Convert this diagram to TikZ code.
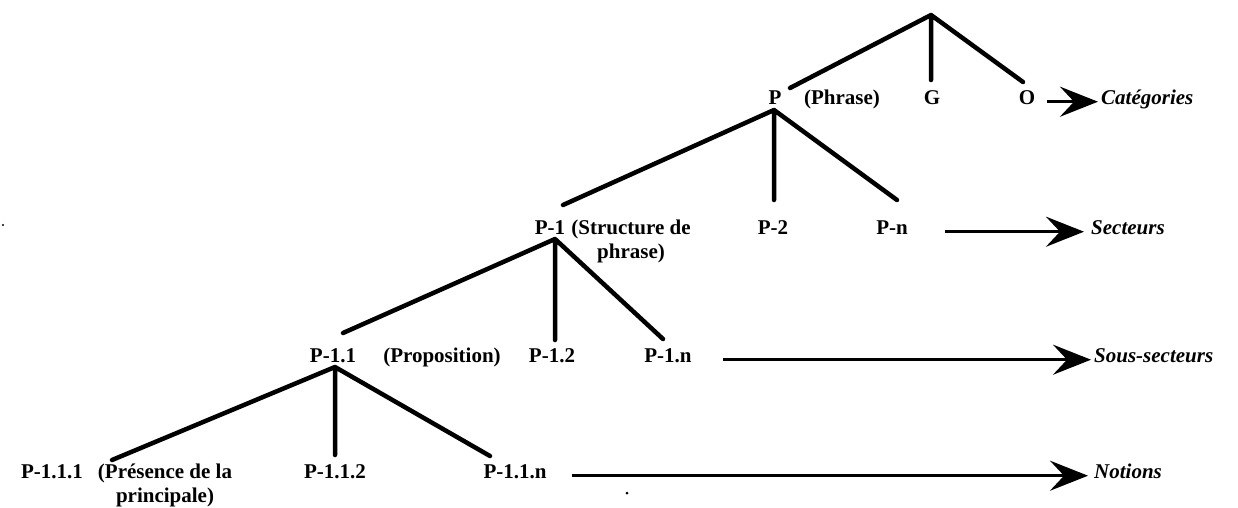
\documentclass[tikz,border=0pt]{standalone}
\usepackage{fontspec}
\setmainfont{Liberation Serif}
\usetikzlibrary{arrows.meta}

\begin{document}
\begin{tikzpicture}[x=1pt,y=-1pt,
  lbl/.style={font=\fontsize{21}{24}\selectfont\bfseries,inner sep=1pt,align=center,anchor=base},
  cat/.style={font=\fontsize{21}{24}\selectfont\bfseries\itshape,inner sep=1pt,anchor=base west},
  branch/.style={line width=4.5pt,line cap=round},
  toarrow/.style={line width=3.2pt,-{Stealth[length=38pt,width=30pt,inset=14pt]}}]
\useasboundingbox (0,0) rectangle (1238,507);
% level 0 : categories
\node[lbl] (P) at (775,104) {P};
\node[lbl] (phr) at (842,104) {(Phrase)};
\node[lbl] (G) at (932,104) {G};
\node[lbl] (O) at (1027,104) {O};
\node[cat] (categ) at (1100,104) {Catégories};
% level 1 : secteurs
\node[lbl] (P1) at (550,234) {P-1};
\node[lbl] (struct) at (631,258) {(Structure de\\phrase)};
\node[lbl] (P2) at (773,234) {P-2};
\node[lbl] (Pn) at (892,234) {P-n};
\node[cat] (sect) at (1090,234) {Secteurs};
% level 2 : sous-secteurs
\node[lbl] (P11) at (333,362) {P-1.1};
\node[lbl] (prop) at (442,362) {(Proposition)};
\node[lbl] (P12) at (552,362) {P-1.2};
\node[lbl] (P1n) at (668,362) {P-1.n};
\node[cat] (ssect) at (1093,362) {Sous-secteurs};
% level 3 : notions
\node[lbl] (P111) at (52,478) {P-1.1.1};
\node[lbl] (pres) at (165,502) {(Présence de la\\principale)};
\node[lbl] (P112) at (335,478) {P-1.1.2};
\node[lbl] (P11n) at (515,478) {P-1.1.n};
\node[cat] (notions) at (1093,478) {Notions};
% junctions and branch ends
\coordinate (top) at (931,15);
\coordinate (Pe) at (790,88);  \coordinate (Ge) at (931,80);  \coordinate (Oe) at (1023,82);
\coordinate (Pj) at (774,110);
\coordinate (P1e) at (563,205); \coordinate (P2e) at (774,200); \coordinate (Pne) at (897,200);
\coordinate (P1j) at (555,239);
\coordinate (P11e) at (343,333); \coordinate (P12e) at (555,340); \coordinate (P1ne) at (663,339);
\coordinate (P11j) at (335,367);
\coordinate (P111e) at (112,460); \coordinate (P112e) at (335,455); \coordinate (P11ne) at (490,456);
% tree
\draw[branch] (top) -- (Pe) (top) -- (Ge) (top) -- (Oe);
\draw[branch] (Pj) -- (P1e) (Pj) -- (P2e) (Pj) -- (Pne);
\draw[branch] (P1j) -- (P11e) (P1j) -- (P12e) (P1j) -- (P1ne);
\draw[branch] (P11j) -- (P111e) (P11j) -- (P112e) (P11j) -- (P11ne);
% arrows to the level names
\draw[toarrow,shorten <=11pt,shorten >=2pt] (O.mid east) -- (categ.mid west);
\draw[toarrow,shorten <=36pt,shorten >=6pt] (Pn.mid east) -- (sect.mid west);
\draw[toarrow,shorten <=30pt,shorten >=2pt] (P1n.mid east) -- (ssect.mid west);
\draw[toarrow,shorten <=24pt,shorten >=5pt] (P11n.mid east) -- (notions.mid west);
% specks
\fill (627,493) circle (1.5pt);
\fill (3,225) circle (1.2pt);
\end{tikzpicture}
\end{document}
